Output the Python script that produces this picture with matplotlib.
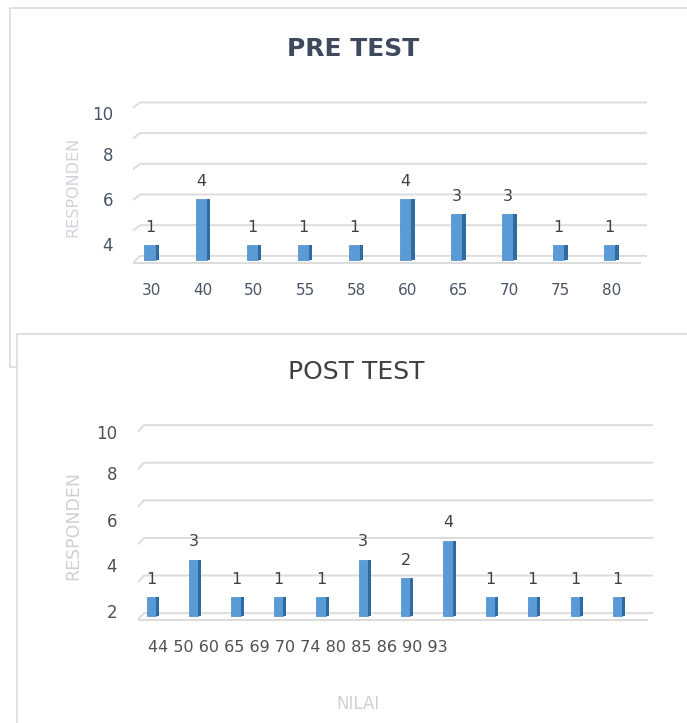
import numpy as np
import matplotlib
matplotlib.use('Agg')
import matplotlib.pyplot as plt
from matplotlib.patches import Rectangle
import matplotlib.transforms as mtransforms

# data
pre_labels  = ['30', '40', '50', '55', '58', '60', '65', '70', '75', '80']
pre_values  = [1, 4, 1, 1, 1, 4, 3, 3, 1, 1]
pre_yticks  = ['4', '6', '8', '10']

post_labels = ['44', '50', '60', '65', '69', '70', '74', '80', '85', '86', '90', '93']
post_values = [1, 3, 1, 1, 1, 3, 2, 4, 1, 1, 1, 1]
post_yticks = ['2', '4', '6', '8', '10']

grid_vals = [0, 2, 4, 6, 8, 10]

W, H = 687, 723
FRONT = '#5B9BD5'
SIDE = '#2F6AA3'
GRID = '#DCDCDC'

plt.rcParams['font.family'] = 'DejaVu Sans'
fig = plt.figure(figsize=(W / 100, H / 100), dpi=100, facecolor='white')


def px(x, y):
    return x / W, 1 - y / H


# panel frames
fig.add_artist(Rectangle(px(10, 367), 1, (367 - 8) / H, transform=fig.transFigure,
                         facecolor='white', edgecolor=GRID, lw=1.2, zorder=-2))
fig.add_artist(Rectangle(px(17, 760), 1, (760 - 334) / H, transform=fig.transFigure,
                         facecolor='white', edgecolor=GRID, lw=1.2, zorder=-1))


def panel(rect, labels, values, xlim, ylim, depth, floor, slant, front_w, side_w):
    ax = fig.add_axes(rect)
    ax.set_facecolor('none')
    ax.set_xlim(*xlim)
    ax.set_ylim(*ylim)
    for s in ax.spines.values():
        s.set_visible(False)
    x0, x1 = xlim
    # back-wall gridlines with the little 3D slant on the left
    for g in grid_vals:
        ax.plot([x0, x0 + slant, x1], [g + floor if g == 0 else g + depth - 0.35,
                                       g + depth, g + depth],
                color=GRID, lw=1.4, zorder=1, solid_capstyle='butt')
    ax.plot([x0, x1 - slant], [floor, floor], color=GRID, lw=1.4, zorder=1)
    x = np.arange(len(values))
    w = front_w + side_w
    left = x - w / 2
    ax.bar(left + front_w / 2, values, width=front_w, color=FRONT,
           edgecolor='#4A8AC8', lw=0.5, zorder=3)
    ax.bar(left + front_w + side_w / 2, values, width=side_w, color=SIDE, zorder=3)
    for xi, v in zip(x, values):
        ax.annotate(str(v), (xi - side_w / 2, v), xytext=(0, 13),
                    textcoords='offset points', ha='center', va='center',
                    fontsize=11.5, color='#404040')
    ax.set_yticks([])
    return ax, x


# PRE TEST
ax1, x1 = panel([133 / W, 1 - 265.1 / H, 514 / W, 167.3 / H], pre_labels, pre_values,
                (-0.37, 9.7), (-0.3, 10.6), 0.3, -0.16, 0.14, 0.22, 0.07)
ax1.set_xticks(x1, pre_labels)
ax1.tick_params(axis='x', length=0, pad=13, labelsize=11, labelcolor='#4A5466')
tr1 = mtransforms.blended_transform_factory(ax1.transAxes, ax1.transData)
for lab, yv in zip(pre_yticks, [0.94, 3.88, 6.8, 9.48]):
    ax1.text(-0.039, yv, lab, transform=tr1, ha='right', va='center',
             fontsize=12, color='#4A5466')

# POST TEST
ax2, x2 = panel([138 / W, 1 - 621.6 / H, 515 / W, 206.8 / H], post_labels, post_values,
                (-0.35, 11.8), (-0.3, 10.7), 0.15, -0.19, 0.14, 0.22, 0.07)
ax2.set_xticks([])
tr2 = mtransforms.blended_transform_factory(ax2.transAxes, ax2.transData)
for lab, yv in zip(post_yticks, [0.18, 2.62, 5.02, 7.5, 9.68]):
    ax2.text(-0.041, yv, lab, transform=tr2, ha='right', va='center',
             fontsize=12, color='#505050')
# category labels crowded together under the first bars, as in the source
fig.text(*px(148, 648), ' '.join(post_labels), ha='left', va='center',
         fontsize=11.5, color='#505050')

# titles and axis titles
fig.text(*px(353, 49), 'PRE TEST', ha='center', va='center', fontsize=18,
         fontweight='bold', color='#3E4A5C')
fig.text(*px(356, 372.5), 'POST TEST', ha='center', va='center', fontsize=18,
         color='#404040')
fig.text(*px(72.7, 187), 'RESPONDEN', rotation=90, ha='center', va='center',
         fontsize=11.5, color='#D0D4DA')
fig.text(*px(73.3, 526), 'RESPONDEN', rotation=90, ha='center', va='center',
         fontsize=12.5, color='#D0D0D0')
fig.text(*px(358, 704), 'NILAI', ha='center', va='center', fontsize=12,
         color='#D0D0D0')

plt.savefig('out.png', dpi=100, facecolor='white')
